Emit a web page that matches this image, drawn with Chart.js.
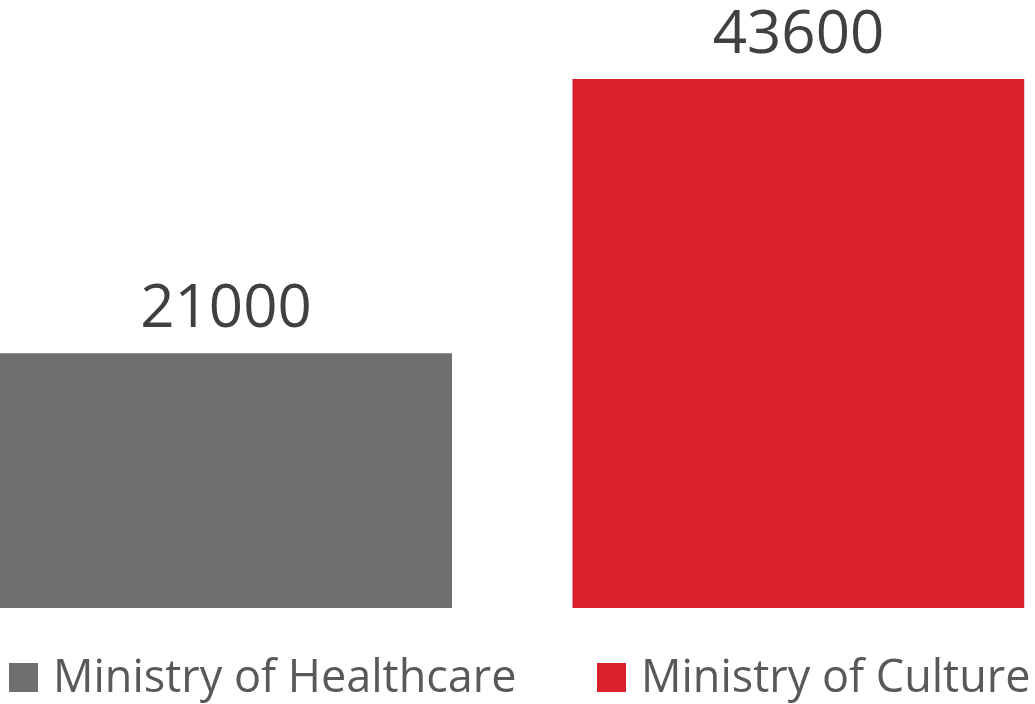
<!DOCTYPE html>
<html>
<head>
<meta charset="utf-8">
<script src="https://cdn.jsdelivr.net/npm/chart.js@4"></script>
<style>
  html, body { margin: 0; padding: 0; background: #ffffff; overflow: hidden; }
  #wrap { width: 1035px; height: 704px; position: relative; }
  .legend-box { position: absolute; top: 663px; width: 29px; height: 29px; }
  .legend-text {
    position: absolute; top: 644px; height: 45px; line-height: 45px;
    font: 45px "Open Sans", "Noto Sans", sans-serif; color: #595959; white-space: nowrap;
  }
</style>
</head>
<body>
<div id="wrap">
  <canvas id="chart" width="1035" height="704"></canvas>
  <div id="legend"></div>
</div>
<script>
// values
const categories = [''];
const seriesNames = ['Ministry of Healthcare', 'Ministry of Culture'];
const healthcareValues = [21000];
const cultureValues = [43600];
const seriesColors = ['#6f6f6f', '#d9202c'];

const fontFamily = '"Open Sans", "Noto Sans", sans-serif';

// draws the value above each bar
const valueLabels = {
    id: 'valueLabels',
    afterDatasetsDraw(chart) {
        const ctx = chart.ctx;
        ctx.save();
        ctx.font = '60px ' + fontFamily;
        ctx.fillStyle = '#404040';
        ctx.textAlign = 'center';
        ctx.textBaseline = 'alphabetic';
        chart.data.datasets.forEach((ds, i) => {
            chart.getDatasetMeta(i).data.forEach((bar, j) => {
                ctx.fillText(String(ds.data[j]), bar.x, bar.y - 26);
            });
        });
        ctx.restore();
    }
};

const chart = new Chart(document.getElementById('chart'), {
    type: 'bar',
    data: {
        labels: categories,
        datasets: [
            { label: seriesNames[0], data: healthcareValues, backgroundColor: seriesColors[0] },
            { label: seriesNames[1], data: cultureValues, backgroundColor: seriesColors[1] }
        ]
    },
    options: {
        responsive: false,
        devicePixelRatio: 1,
        animation: false,
        categoryPercentage: 1.1176,
        barPercentage: 0.7895,
        layout: { padding: { top: 0, left: 0, right: 10.5, bottom: 96 } },
        plugins: {
            legend: { display: false },
            tooltip: { enabled: false }
        },
        scales: {
            x: { display: false },
            y: { display: false, min: 0, max: 50100 }
        }
    },
    plugins: [valueLabels]
});

// html legend, one entry per dataset, placed under each bar
const legend = document.getElementById('legend');
const boxLefts = [9, 597];
chart.data.datasets.forEach((ds, i) => {
    const box = document.createElement('div');
    box.className = 'legend-box';
    box.style.left = boxLefts[i] + 'px';
    box.style.background = ds.backgroundColor;
    const text = document.createElement('div');
    text.className = 'legend-text';
    text.style.left = (boxLefts[i] + 44) + 'px';
    text.textContent = ds.label;
    legend.appendChild(box);
    legend.appendChild(text);
});
</script>
</body>
</html>
